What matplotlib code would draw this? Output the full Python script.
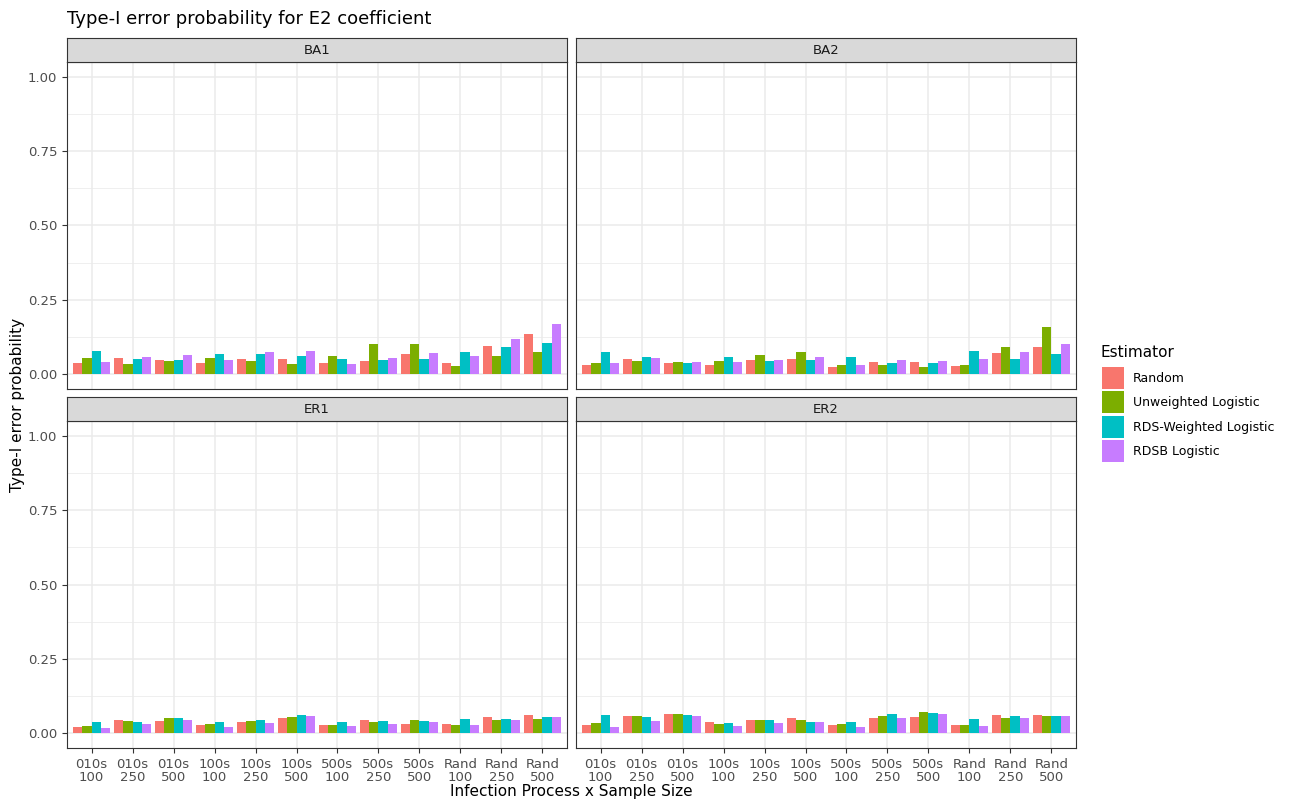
import matplotlib
matplotlib.use("Agg")
import matplotlib.pyplot as plt
from matplotlib.patches import Patch
import numpy as np

categories = ["010s\n100", "010s\n250", "010s\n500", "100s\n100", "100s\n250", "100s\n500",
              "500s\n100", "500s\n250", "500s\n500", "Rand\n100", "Rand\n250", "Rand\n500"]
estimators = ["Random", "Unweighted Logistic", "RDS-Weighted Logistic", "RDSB Logistic"]
colors = ["#F8766D", "#7CAE00", "#00BFC4", "#C77CFF"]
panels = ["BA1", "BA2", "ER1", "ER2"]

ba1_random     = [0.038, 0.053, 0.047, 0.038, 0.050, 0.052, 0.036, 0.044, 0.069, 0.036, 0.095, 0.134]
ba1_unweighted = [0.053, 0.035, 0.043, 0.055, 0.044, 0.035, 0.060, 0.102, 0.101, 0.028, 0.060, 0.075]
ba1_rdsw       = [0.077, 0.051, 0.049, 0.068, 0.067, 0.061, 0.052, 0.048, 0.052, 0.076, 0.091, 0.105]
ba1_rdsb       = [0.042, 0.056, 0.066, 0.048, 0.075, 0.077, 0.035, 0.055, 0.072, 0.060, 0.119, 0.170]

ba2_random     = [0.032, 0.050, 0.036, 0.032, 0.049, 0.050, 0.023, 0.041, 0.040, 0.026, 0.070, 0.092]
ba2_unweighted = [0.038, 0.044, 0.041, 0.045, 0.064, 0.076, 0.030, 0.031, 0.025, 0.030, 0.091, 0.159]
ba2_rdsw       = [0.075, 0.058, 0.039, 0.056, 0.043, 0.048, 0.059, 0.038, 0.036, 0.077, 0.052, 0.068]
ba2_rdsb       = [0.036, 0.055, 0.042, 0.042, 0.047, 0.059, 0.030, 0.048, 0.044, 0.052, 0.075, 0.103]

er1_random     = [0.020, 0.044, 0.040, 0.028, 0.038, 0.050, 0.027, 0.044, 0.032, 0.030, 0.055, 0.061]
er1_unweighted = [0.025, 0.041, 0.052, 0.032, 0.040, 0.053, 0.027, 0.038, 0.043, 0.027, 0.045, 0.049]
er1_rdsw       = [0.036, 0.039, 0.050, 0.039, 0.043, 0.061, 0.039, 0.040, 0.040, 0.047, 0.048, 0.053]
er1_rdsb       = [0.016, 0.031, 0.045, 0.022, 0.035, 0.056, 0.025, 0.031, 0.039, 0.028, 0.043, 0.055]

er2_random     = [0.028, 0.057, 0.063, 0.038, 0.044, 0.052, 0.027, 0.052, 0.055, 0.027, 0.061, 0.061]
er2_unweighted = [0.033, 0.056, 0.066, 0.031, 0.044, 0.044, 0.032, 0.057, 0.072, 0.027, 0.051, 0.058]
er2_rdsw       = [0.061, 0.053, 0.060, 0.035, 0.045, 0.039, 0.039, 0.064, 0.069, 0.049, 0.056, 0.059]
er2_rdsb       = [0.022, 0.040, 0.056, 0.023, 0.035, 0.036, 0.022, 0.052, 0.064, 0.024, 0.051, 0.059]

data = {
    "BA1": [ba1_random, ba1_unweighted, ba1_rdsw, ba1_rdsb],
    "BA2": [ba2_random, ba2_unweighted, ba2_rdsw, ba2_rdsb],
    "ER1": [er1_random, er1_unweighted, er1_rdsw, er1_rdsb],
    "ER2": [er2_random, er2_unweighted, er2_rdsw, er2_rdsb],
}

W, H = 1292, 805
fig = plt.figure(figsize=(W / 100, H / 100), dpi=100)
fig.patch.set_facecolor("white")

def fx(px):
    return px / W

def fy(py):
    return 1 - py / H

panel_x = [67, 576]
panel_w = 500
panel_top = [62, 421]
panel_h = 327
strip_h = 24

x = np.arange(1, len(categories) + 1)
bw = 0.9 / 4
grey20 = "#333333"
grey30 = "#4D4D4D"
grid_c = "#EBEBEB"

for i, name in enumerate(panels):
    r, c = divmod(i, 2)
    x0 = panel_x[c]
    top = panel_top[r]
    ax = fig.add_axes([fx(x0), fy(top + panel_h), fx(panel_w), panel_h / H])
    ax.set_xlim(0.4, 12.6)
    ax.set_ylim(-0.05, 1.05)
    ax.set_axisbelow(True)
    ax.set_yticks([0, 0.25, 0.5, 0.75, 1.0])
    ax.set_yticks([0.125, 0.375, 0.625, 0.875], minor=True)
    ax.set_xticks(x)
    ax.grid(True, which="major", color=grid_c, linewidth=1.1)
    ax.grid(True, which="minor", axis="y", color=grid_c, linewidth=0.55)
    for j, vals in enumerate(data[name]):
        ax.bar(x + (j - 1.5) * bw, vals, width=bw, color=colors[j], linewidth=0)
    for s in ax.spines.values():
        s.set_color(grey20)
        s.set_linewidth(0.8)
    ax.tick_params(axis="both", which="major", color=grey20, length=3.5, width=0.8,
                   labelcolor=grey30, labelsize=9.5)
    ax.tick_params(axis="y", which="minor", length=0)
    if c == 0:
        ax.set_yticklabels(["0.00", "0.25", "0.50", "0.75", "1.00"])
    else:
        ax.set_yticklabels([])
        ax.tick_params(axis="y", which="major", length=0)
    if r == 1:
        ax.set_xticklabels(categories, linespacing=1.0)
    else:
        ax.set_xticklabels([])
        ax.tick_params(axis="x", which="major", length=0)
    # strip
    sax = fig.add_axes([fx(x0), fy(top), fx(panel_w), strip_h / H])
    sax.set_facecolor("#D9D9D9")
    sax.set_xticks([])
    sax.set_yticks([])
    for s in sax.spines.values():
        s.set_color(grey20)
        s.set_linewidth(0.8)
    sax.text(0.5, 0.5, name, ha="center", va="center", fontsize=9.5, color="#1A1A1A",
             transform=sax.transAxes)

fig.text(fx(67), fy(19), "Type-I error probability for E2 coefficient", fontsize=13,
         ha="left", va="center", color="black")
fig.text(fx(571), fy(791), "Infection Process x Sample Size", fontsize=11,
         ha="center", va="center")
fig.text(fx(18), fy(405), "Type-I error probability", fontsize=11, rotation=90,
         ha="center", va="center")

fig.text(fx(1101), fy(352), "Estimator", fontsize=11, ha="left", va="center")
handles = [Patch(facecolor=col, edgecolor="none") for col in colors]
leg = fig.legend(handles, estimators, loc="upper left",
                 bbox_to_anchor=(fx(1102), fy(367)), frameon=False, fontsize=9,
                 handlelength=1.76, handleheight=2.33,
                 handletextpad=0.72, labelspacing=0.2, borderpad=0, borderaxespad=0)

fig.savefig("out.png", dpi=100, facecolor="white")
